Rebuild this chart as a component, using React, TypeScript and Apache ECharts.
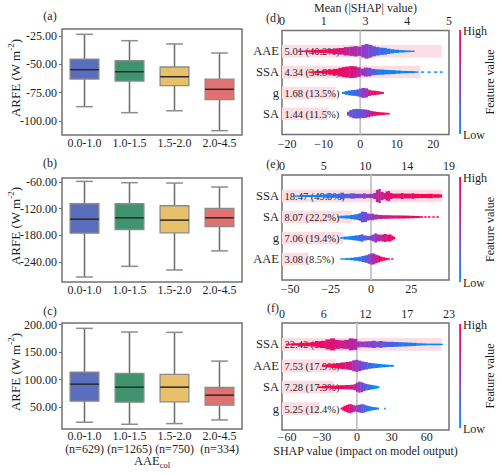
import React, { useEffect, useRef } from 'react';
import * as echarts from 'echarts';

const FONT = 'Liberation Serif';
const INK = '#1f1f1f';
const FRAME = '#727272';

// ---- ARFE box plots, grouped by AAE_col bin ----
const AAE_BINS = ['0.0-1.0', '1.0-1.5', '1.5-2.0', '2.0-4.5'];
const BIN_COUNTS = [629, 1265, 750, 334];
const BOX_FILLS = ['#5b6ebe', '#3f946f', '#e8c06a', '#e07272'];

// whisker low, Q1, median, Q3, whisker high
const ARFE_A = [
  [-87.3, -63.0, -54.7, -45.3, -23.5],
  [-92.6, -64.7, -56.5, -46.8, -29.1],
  [-90.9, -68.8, -60.9, -52.3, -32.0],
  [-108.5, -81.1, -72.0, -63.0, -40.0],
];
const ARFE_B = [
  [-274.4, -175.5, -143.8, -109.0, -58.5],
  [-250.3, -167.2, -140.8, -109.0, -61.5],
  [-258.6, -174.8, -146.0, -113.6, -62.3],
  [-215.5, -160.4, -140.8, -119.6, -71.3],
];
const ARFE_C = [
  [22.7, 60.9, 91.9, 113.8, 193.3],
  [19.0, 59.1, 86.4, 111.3, 186.6],
  [20.2, 59.7, 86.4, 109.5, 186.0],
  [26.9, 53.6, 71.9, 85.8, 133.8],
];
const ARFE_TICKS_A = [-100, -75, -50, -25];
const ARFE_TICKS_B = [-240, -180, -120, -60];
const ARFE_TICKS_C = [50, 100, 150, 200];
const ARFE_RANGE_A = [-112.3, -18.8];
const ARFE_RANGE_B = [-285.7, -50.9];
const ARFE_RANGE_C = [10.4, 203.0];

// ---- SHAP summaries; features listed top to bottom ----
// swarm profiles: [SHAP value, half thickness (px), feature value 0..1]
const FEATURES_D = ['AAE', 'SSA', 'g', 'SA'];
const MEAN_SHAP_D = [5.01, 4.34, 1.68, 1.44];
const SHARE_D = [40.2, 34.8, 13.5, 11.5];
const SHAP_TICKS_D = [-20, -10, 0, 10, 20];
const SHAP_RANGE_D = [-21.4, 24.3];
const MEAN_LABELS_D = ['0', '1', '3', '4', '5'];
const MEAN_MAX_D = 5.24;
const SWARM_D = [
  [[-17, 0.7, 1], [-15, 1.0, 1], [-13, 1.4, 0.98], [-11, 1.8, 0.96], [-9, 2.2, 0.93], [-7.5, 2.8, 0.88], [-6, 3.3, 0.82], [-4.5, 4.2, 0.74], [-3, 4.6, 0.67], [-1.8, 5.2, 0.62], [-0.8, 4.6, 0.57], [0.3, 6.2, 0.52], [1.2, 7.4, 0.47], [2.2, 6.4, 0.42], [3.2, 5.0, 0.35], [4.2, 4.2, 0.28], [5.2, 3.6, 0.22], [6.2, 3.4, 0.17], [7.2, 2.6, 0.12], [8.2, 2.0, 0.08], [9.2, 1.6, 0.05], [10.5, 1.2, 0.02], [12, 0.9, 0], [13.5, 0.7, 0], [14.8, 0, 0]],
  [[-14.2, 0.7, 1], [-12.5, 1.2, 1], [-10.5, 1.8, 0.98], [-9, 2.5, 0.97], [-7.5, 3.2, 0.95], [-6, 4.2, 0.93], [-5, 5.0, 0.9], [-4, 5.5, 0.88], [-3, 6.0, 0.85], [-2, 5.7, 0.8], [-1, 4.8, 0.7], [0, 3.5, 0.6], [1, 4.5, 0.5], [2, 4.2, 0.42], [3, 3.2, 0.3], [4, 2.8, 0.2], [5, 2.6, 0.12], [6.5, 2.2, 0.06], [8, 2.0, 0.03], [9.5, 1.6, 0.02], [11, 1.2, 0], [13, 1.0, 0], [15, 0.7, 0], [15.8, 0, 0], [16.6, 0.7, 0], [17.4, 0, 0], [18.4, 0.7, 0], [19.2, 0, 0], [20.2, 0.7, 0], [21, 0, 0], [21.8, 0.7, 0], [22.5, 0, 0]],
  [[-5, 1.0, 0.05], [-4.2, 1.8, 0.05], [-3.4, 2.4, 0.1], [-2.6, 2.8, 0.15], [-1.8, 3.0, 0.2], [-1.0, 3.5, 0.3], [-0.3, 4.2, 0.4], [0.4, 5.0, 0.5], [1.2, 4.6, 0.6], [2.0, 3.2, 0.75], [2.8, 2.4, 0.85], [3.6, 2.2, 0.92], [4.4, 1.8, 0.95], [5.2, 1.2, 1], [6.0, 0.8, 1], [6.4, 0, 1]],
  [[-3.6, 2.0, 0.45], [-3.0, 3.6, 0.4], [-2.2, 4.6, 0.35], [-1.4, 4.8, 0.3], [-0.6, 4.6, 0.35], [0.2, 4.4, 0.4], [1.0, 4.2, 0.5], [1.8, 3.6, 0.6], [2.6, 2.8, 0.75], [3.4, 2.2, 0.85], [4.2, 1.8, 0.9], [5.0, 1.5, 0.95], [5.8, 1.3, 1], [6.6, 1.0, 1], [7.4, 0.8, 1], [8.0, 0, 1]],
];

const FEATURES_E = ['SSA', 'SA', 'g', 'AAE'];
const MEAN_SHAP_E = [18.47, 8.07, 7.06, 3.08];
const SHARE_E = [49.9, 22.2, 19.4, 8.5];
const SHAP_TICKS_E = [-50, -25, 0, 25];
const SHAP_RANGE_E = [-55.1, 48.3];
const MEAN_LABELS_E = ['0', '5', '10', '14', '19'];
const MEAN_MAX_E = 19.25;
const SWARM_E = [
  [[-48, 0.7, 0], [-44, 1.0, 0], [-39, 1.0, 0.02], [-34, 1.3, 0.05], [-29, 1.8, 0.1], [-27.5, 2.7, 0.14], [-26, 1.8, 0.16], [-22, 2.0, 0.22], [-19, 3.3, 0.27], [-17, 2.2, 0.3], [-13, 2.6, 0.35], [-12, 2.7, 0.38], [-10, 2.2, 0.42], [-6, 2.0, 0.47], [-5, 2.7, 0.5], [-3.5, 2.0, 0.53], [-0.7, 2.2, 0.57], [1.4, 3.0, 0.62], [3, 6.0, 0.68], [4.5, 7.0, 0.72], [5.8, 4.0, 0.75], [7.6, 3.0, 0.8], [9, 4.5, 0.84], [10.3, 5.0, 0.86], [11.5, 3.0, 0.88], [13, 2.4, 0.9], [17, 2.4, 0.92], [18.5, 3.0, 0.93], [20, 2.4, 0.94], [24, 2.2, 0.96], [25, 2.8, 0.97], [26.5, 2.2, 0.97], [30, 2.0, 0.98], [35, 2.2, 1], [38, 1.8, 1], [42, 1.6, 1], [43.8, 0, 1]],
  [[-21, 0.8, 0], [-19, 1.3, 0.02], [-16, 1.6, 0.05], [-13, 2.0, 0.1], [-11, 2.6, 0.16], [-9, 3.0, 0.22], [-7.5, 3.8, 0.28], [-6.2, 5.4, 0.34], [-4.5, 5.0, 0.4], [-2.7, 3.6, 0.46], [-1, 3.0, 0.5], [0.4, 3.4, 0.55], [1.6, 2.4, 0.6], [2.5, 2.6, 0.64], [4, 2.0, 0.7], [6.6, 1.8, 0.76], [9, 1.8, 0.8], [12, 1.6, 0.85], [15, 1.6, 0.88], [18, 1.5, 0.91], [21, 1.4, 0.94], [24, 1.2, 0.96], [27, 1.0, 0.98], [30, 0.8, 1], [32, 0, 1], [33, 0.8, 1], [34.2, 0, 1], [35.3, 0.8, 1], [36.5, 0, 1], [38, 0.8, 1], [39.2, 0, 1], [40.5, 0.8, 1], [41.7, 0, 1]],
  [[-19, 0.8, 0], [-17, 1.5, 0.02], [-14, 1.8, 0.05], [-12, 2.2, 0.08], [-10, 2.6, 0.12], [-8, 3.0, 0.18], [-6.5, 3.7, 0.24], [-5, 2.6, 0.3], [-3, 2.0, 0.36], [-1, 2.4, 0.42], [0.5, 3.4, 0.5], [2, 4.6, 0.56], [3.5, 3.6, 0.62], [5, 3.2, 0.68], [6.5, 3.6, 0.74], [8, 4.0, 0.8], [9.5, 3.4, 0.86], [11, 3.6, 0.92], [12.5, 2.4, 0.96], [13.5, 1.3, 1], [14.8, 0, 1]],
  [[-19, 0.7, 0], [-16, 0.9, 0], [-13, 1.3, 0.02], [-10.5, 1.8, 0.08], [-8, 2.3, 0.15], [-6, 3.0, 0.22], [-4, 3.8, 0.3], [-2, 4.8, 0.4], [-0.5, 5.6, 0.55], [1, 5.4, 0.65], [2.5, 4.2, 0.75], [4, 3.4, 0.85], [5.5, 2.4, 0.92], [7, 1.8, 0.96], [8.5, 1.2, 1], [10, 0.8, 1], [11.5, 0, 1], [12.5, 0.8, 1], [13.5, 0, 1]],
];

const FEATURES_F = ['SSA', 'AAE', 'SA', 'g'];
const MEAN_SHAP_F = [22.42, 7.53, 7.28, 5.25];
const SHARE_F = [52.4, 17.9, 17.3, 12.4];
const SHAP_TICKS_F = [-60, -30, 0, 30, 60];
const SHAP_RANGE_F = [-64.3, 79.1];
const MEAN_LABELS_F = ['0', '6', '12', '17', '23'];
const MEAN_MAX_F = 23.44;
const SWARM_F = [
  [[-61, 0.8, 1], [-56, 1.2, 1], [-50, 1.5, 1], [-45, 1.8, 0.98], [-40, 2.2, 0.96], [-35, 3.0, 0.93], [-31, 3.6, 0.9], [-27, 5.0, 0.87], [-23, 6.0, 0.84], [-19, 4.5, 0.8], [-15, 4.0, 0.77], [-11, 4.5, 0.73], [-7, 6.0, 0.7], [-3.5, 5.5, 0.65], [0, 3.0, 0.6], [3, 2.8, 0.55], [6.5, 3.0, 0.5], [10, 3.2, 0.47], [13, 3.6, 0.43], [16, 3.0, 0.4], [19, 3.4, 0.36], [22, 2.8, 0.32], [25, 2.6, 0.28], [28, 2.6, 0.24], [31, 2.4, 0.2], [35, 2.2, 0.15], [39, 2.0, 0.1], [43, 1.8, 0.06], [47, 1.6, 0.03], [51, 1.2, 0], [55, 1.0, 0], [59, 0.8, 0], [63, 0.8, 0], [67, 0.8, 0], [71, 0.7, 0], [73.5, 0, 0]],
  [[-30, 1.0, 1], [-26, 1.6, 1], [-22, 2.2, 0.97], [-18, 2.8, 0.93], [-14, 3.4, 0.88], [-10, 3.8, 0.8], [-7, 4.4, 0.72], [-4, 5.5, 0.62], [-1.5, 6.0, 0.55], [1, 5.2, 0.48], [3.5, 4.4, 0.4], [6, 3.8, 0.32], [9, 3.0, 0.24], [12, 2.6, 0.16], [15, 2.2, 0.1], [18, 1.8, 0.05], [21, 1.5, 0.02], [24, 1.2, 0], [27, 1.0, 0], [30, 0.8, 0], [31.5, 0, 0]],
  [[-34, 0.8, 1], [-30, 1.2, 1], [-26, 1.4, 1], [-22, 1.6, 0.98], [-18, 1.8, 0.96], [-14, 2.0, 0.92], [-10, 2.2, 0.88], [-6.5, 2.4, 0.8], [-3, 3.0, 0.7], [-1, 4.5, 0.6], [1, 5.5, 0.52], [3, 5.0, 0.45], [5, 4.0, 0.36], [7, 3.2, 0.28], [9, 2.8, 0.2], [11, 2.4, 0.12], [13, 2.0, 0.06], [15, 1.6, 0.02], [17, 1.0, 0], [19, 0, 0]],
  [[-14, 1.0, 1], [-12.5, 2.0, 1], [-11, 2.8, 0.97], [-9.5, 3.6, 0.92], [-8, 4.2, 0.87], [-6.5, 4.6, 0.82], [-5, 4.0, 0.75], [-3.5, 3.2, 0.68], [-2, 3.0, 0.6], [-0.5, 3.4, 0.54], [1, 3.8, 0.48], [2.5, 4.2, 0.4], [4, 4.4, 0.33], [5.5, 4.0, 0.26], [7, 3.2, 0.2], [8.5, 2.8, 0.14], [10, 2.4, 0.1], [11.5, 2.0, 0.06], [13, 1.6, 0.03], [14.5, 1.4, 0], [16, 1.2, 0], [17.5, 0.9, 0], [18.7, 0, 0], [23.4, 0.9, 0], [24.4, 0, 0]],
];

// ---- layout ----
const LEFT_X = 62;
const LEFT_W = 180;
const RIGHT_X = 282;
const RIGHT_W = 167;
const LEFT_ROWS = [{ top: 29, height: 106 }, { top: 178, height: 104 }, { top: 323, height: 106 }];
const LEFT_LABEL_GAP = [2, 2, 1];
const RIGHT_ROWS = [{ top: 30.5, height: 104 }, { top: 175, height: 105 }, { top: 323, height: 107 }];
const RIGHT_TOP_GAP = [4, 3, 3];
const RIGHT_BOTTOM_GAP = [3, 3, 1];
const COLORBARS = [[30, 134], [177, 282], [324, 428]];
const SHAP_LOW = '#008bfb';
const SHAP_MID = '#8e3dcb';
const SHAP_HIGH = '#ff0051';

const leftPanels = [
  { boxes: ARFE_A, ticks: ARFE_TICKS_A, range: ARFE_RANGE_A },
  { boxes: ARFE_B, ticks: ARFE_TICKS_B, range: ARFE_RANGE_B },
  { boxes: ARFE_C, ticks: ARFE_TICKS_C, range: ARFE_RANGE_C },
];
const rightPanels = [
  { features: FEATURES_D, means: MEAN_SHAP_D, shares: SHARE_D, ticks: SHAP_TICKS_D, range: SHAP_RANGE_D, meanLabels: MEAN_LABELS_D, meanMax: MEAN_MAX_D, swarm: SWARM_D },
  { features: FEATURES_E, means: MEAN_SHAP_E, shares: SHARE_E, ticks: SHAP_TICKS_E, range: SHAP_RANGE_E, meanLabels: MEAN_LABELS_E, meanMax: MEAN_MAX_E, swarm: SWARM_E },
  { features: FEATURES_F, means: MEAN_SHAP_F, shares: SHARE_F, ticks: SHAP_TICKS_F, range: SHAP_RANGE_F, meanLabels: MEAN_LABELS_F, meanMax: MEAN_MAX_F, swarm: SWARM_F },
];

const minus = (v: number) => String(v).replace('-', '\u2212');

function boxItem(params: any, api: any) {
  const cat = api.value(0);
  const lo = api.coord([cat, api.value(1)]);
  const q1 = api.coord([cat, api.value(2)]);
  const md = api.coord([cat, api.value(3)]);
  const q3 = api.coord([cat, api.value(4)]);
  const hi = api.coord([cat, api.value(5)]);
  const band = api.size([1, 0])[0];
  const bw = band * 0.64;
  const cw = bw * 0.58;
  const x = lo[0];
  const whisker = { stroke: '#6a6a6a', lineWidth: 1.5 };
  const cap = { stroke: '#8c8c8c', lineWidth: 1.5 };
  return {
    type: 'group',
    children: [
      { type: 'line', shape: { x1: x, y1: lo[1], x2: x, y2: q1[1] }, style: whisker },
      { type: 'line', shape: { x1: x, y1: q3[1], x2: x, y2: hi[1] }, style: whisker },
      { type: 'line', shape: { x1: x - cw / 2, y1: lo[1], x2: x + cw / 2, y2: lo[1] }, style: cap },
      { type: 'line', shape: { x1: x - cw / 2, y1: hi[1], x2: x + cw / 2, y2: hi[1] }, style: cap },
      { type: 'rect', shape: { x: x - bw / 2, y: q3[1], width: bw, height: q1[1] - q3[1] }, style: { fill: BOX_FILLS[cat], stroke: '#8a8a8a', lineWidth: 1.3 } },
      { type: 'line', shape: { x1: x - bw / 2, y1: md[1], x2: x + bw / 2, y2: md[1] }, style: { stroke: '#2a2a2a', lineWidth: 1.5 } },
    ],
  };
}

function swarmItem(params: any, api: any) {
  const h = api.value(2);
  if (!(h > 0)) return { type: 'group', children: [] };
  const row = api.value(1);
  const p0 = api.coord([api.value(0), row]);
  const p1 = api.coord([api.value(4), row]);
  return {
    type: 'rect',
    shape: { x: p0[0], y: p0[1] - h, width: Math.max(p1[0] - p0[0] + 0.4, 1), height: 2 * h },
    style: { fill: api.visual('color') },
  };
}

function meanItemFactory(labels: string[]) {
  return (params: any, api: any) => {
    const row = api.value(1);
    const p0 = api.coord([0, row]);
    const p1 = api.coord([api.value(0), row]);
    const hh = api.size([0, 0.6])[1];
    return {
      type: 'group',
      children: [
        { type: 'rect', shape: { x: p0[0], y: p0[1] - hh / 2, width: p1[0] - p0[0], height: hh }, style: { fill: '#fcdde4' } },
        { type: 'text', x: p0[0] + 2.5, y: p0[1] + 0.5, style: { text: labels[params.dataIndex], fontFamily: FONT, fontSize: 10.5, fill: INK, align: 'left', verticalAlign: 'middle' } },
      ],
    };
  };
}

function buildOption() {
  const grid: any[] = [];
  const xAxis: any[] = [];
  const yAxis: any[] = [];
  const series: any[] = [];
  const graphic: any[] = [];
  const swarmIdx: number[] = [];

  const gridBase = { show: true, borderColor: FRAME, borderWidth: 1.5, backgroundColor: 'transparent', containLabel: false, outerBoundsMode: 'none' };
  LEFT_ROWS.forEach((r) => grid.push({ ...gridBase, left: LEFT_X, width: LEFT_W, top: r.top, height: r.height }));
  RIGHT_ROWS.forEach((r) => grid.push({ ...gridBase, left: RIGHT_X, width: RIGHT_W, top: r.top, height: r.height }));

  // left category axes
  leftPanels.forEach((p, i) => {
    xAxis.push({
      type: 'category', gridIndex: i, data: AAE_BINS,
      axisLine: { show: false }, axisTick: { show: false },
      axisLabel: {
        interval: 0, margin: LEFT_LABEL_GAP[i], fontFamily: FONT, fontSize: 12, color: INK, lineHeight: 12.6,
        formatter: i === 2 ? (v: string, k: number) => `${v}\n(n=${BIN_COUNTS[k]})` : (v: string) => v,
      },
    });
  });
  // right bottom SHAP axes
  rightPanels.forEach((p, i) => {
    xAxis.push({
      type: 'value', gridIndex: 3 + i, position: 'bottom', min: p.range[0], max: p.range[1],
      axisLine: { show: false }, axisTick: { show: false }, splitLine: { show: false },
      axisLabel: { customValues: p.ticks, formatter: (v: number) => minus(v), margin: RIGHT_BOTTOM_GAP[i], fontFamily: FONT, fontSize: 12, color: INK },
    });
  });
  // right top mean |SHAP| axes
  rightPanels.forEach((p, i) => {
    const q = p.meanMax / 4;
    xAxis.push({
      type: 'value', gridIndex: 3 + i, position: 'top', min: 0, max: p.meanMax,
      axisLine: { show: false }, axisTick: { show: false }, splitLine: { show: false },
      axisLabel: { customValues: [0, q, 2 * q, 3 * q, 4 * q], formatter: (v: number) => p.meanLabels[Math.round(v / q)], margin: RIGHT_TOP_GAP[i], fontFamily: FONT, fontSize: 12, lineHeight: 12, color: INK },
    });
  });

  leftPanels.forEach((p, i) => {
    yAxis.push({
      type: 'value', gridIndex: i, min: p.range[0], max: p.range[1],
      axisLine: { show: false }, splitLine: { show: false },
      axisTick: { show: true, customValues: p.ticks, length: 3, lineStyle: { color: FRAME, width: 1 } },
      axisLabel: { customValues: p.ticks, formatter: (v: number) => v.toFixed(2), margin: 5, fontFamily: FONT, fontSize: 12, color: INK },
    });
  });
  rightPanels.forEach((p, i) => {
    yAxis.push({
      type: 'value', gridIndex: 3 + i, min: -1, max: 4, interval: 1,
      axisLine: { show: false }, axisTick: { show: false }, splitLine: { show: false },
      axisLabel: {
        margin: 3, fontFamily: FONT, fontSize: 12.5, color: INK,
        formatter: (v: number) => (v >= 0 && v <= 3 ? p.features[3 - v] : ''),
      },
    });
  });

  leftPanels.forEach((p, i) => {
    series.push({
      type: 'custom', xAxisIndex: i, yAxisIndex: i, renderItem: boxItem,
      encode: { x: 0, y: [1, 2, 3, 4, 5] },
      data: p.boxes.map((b, k) => [k, ...b]),
    });
  });

  rightPanels.forEach((p, i) => {
    const labels = p.means.map((m, k) => `${m.toFixed(2)} (${p.shares[k].toFixed(1)}%)`);
    series.push({
      type: 'custom', xAxisIndex: 6 + i, yAxisIndex: 3 + i, z: 1,
      renderItem: meanItemFactory(labels), encode: { x: 0, y: 1 },
      data: p.means.map((m, k) => [m, 3 - k]),
    });
    series.push({
      type: 'line', xAxisIndex: 3 + i, yAxisIndex: 3 + i, z: 2, symbol: 'none', silent: true,
      lineStyle: { color: '#c4c4c4', width: 1.8 },
      data: [[0, -1], [0, 4]],
    });
    const items: number[][] = [];
    p.swarm.forEach((prof, k) => {
      prof.forEach((s, j) => {
        const next = j + 1 < prof.length ? prof[j + 1][0] : s[0];
        items.push([s[0], 3 - k, s[1], s[2], next]);
      });
    });
    swarmIdx.push(series.length);
    series.push({
      type: 'custom', xAxisIndex: 3 + i, yAxisIndex: 3 + i, z: 3,
      renderItem: swarmItem, encode: { x: 0, y: 1 }, data: items,
    });
  });

  // panel tags
  const tags = [
    { t: '(a)', x: 50, y: 16 }, { t: '(b)', x: 50, y: 163 }, { t: '(c)', x: 50, y: 310.5 },
    { t: '(d)', x: 273, y: 18 }, { t: '(e)', x: 273, y: 164 }, { t: '(f)', x: 273, y: 308 },
  ];
  tags.forEach((g) => graphic.push({
    type: 'text', x: g.x, y: g.y,
    style: { text: g.t, fontFamily: FONT, fontSize: 12, fill: INK, align: 'center', verticalAlign: 'middle' },
  }));

  // ARFE axis titles
  LEFT_ROWS.forEach((r) => graphic.push({
    type: 'text', x: 14, y: r.top + r.height / 2 - 4, rotation: Math.PI / 2,
    style: {
      text: '{n|ARFE (W m}{s|-2}{n|)}', align: 'center', verticalAlign: 'middle',
      rich: {
        n: { fontFamily: FONT, fontSize: 13, fill: INK, verticalAlign: 'bottom' },
        s: { fontFamily: FONT, fontSize: 9, fill: INK, verticalAlign: 'bottom', padding: [0, 0, 6, 0] },
      },
    },
  }));

  graphic.push({
    type: 'text', x: LEFT_X + LEFT_W / 2, y: 462,
    style: {
      text: '{a|AAE}{b|col}', align: 'center', verticalAlign: 'middle',
      rich: {
        a: { fontFamily: FONT, fontSize: 12.5, fill: INK, verticalAlign: 'top' },
        b: { fontFamily: FONT, fontSize: 8.5, fill: INK, verticalAlign: 'top', padding: [6, 0, 0, 0] },
      },
    },
  });
  graphic.push({
    type: 'text', x: RIGHT_X + RIGHT_W / 2, y: 8,
    style: { text: 'Mean (|SHAP| value)', fontFamily: FONT, fontSize: 12, lineHeight: 12, fill: INK, align: 'center', verticalAlign: 'middle' },
  });
  graphic.push({
    type: 'text', x: RIGHT_X + RIGHT_W / 2, y: 451,
    style: { text: 'SHAP value (impact on model output)', fontFamily: FONT, fontSize: 12, fill: INK, align: 'center', verticalAlign: 'middle' },
  });

  // feature-value colour bars
  COLORBARS.forEach(([top, bottom]) => {
    graphic.push({
      type: 'rect', shape: { x: 459.2, y: top, width: 1.8, height: bottom - top },
      style: {
        fill: new echarts.graphic.LinearGradient(0, 0, 0, 1, [
          { offset: 0, color: SHAP_HIGH }, { offset: 0.5, color: SHAP_MID }, { offset: 1, color: SHAP_LOW },
        ]),
      },
    });
    graphic.push({ type: 'text', x: 463, y: top + 1, style: { text: 'High', fontFamily: FONT, fontSize: 12, fill: INK, align: 'left', verticalAlign: 'middle' } });
    graphic.push({ type: 'text', x: 463, y: bottom + 1, style: { text: 'Low', fontFamily: FONT, fontSize: 12, fill: INK, align: 'left', verticalAlign: 'middle' } });
    graphic.push({
      type: 'text', x: 490, y: (top + bottom) / 2, rotation: Math.PI / 2,
      style: { text: 'Feature value', fontFamily: FONT, fontSize: 12, fill: INK, align: 'center', verticalAlign: 'middle' },
    });
  });

  return {
    animation: false,
    backgroundColor: '#ffffff',
    textStyle: { fontFamily: FONT },
    grid, xAxis, yAxis, series, graphic,
    visualMap: {
      type: 'continuous', show: false, min: 0, max: 1, dimension: 3, seriesIndex: swarmIdx,
      inRange: { color: [SHAP_LOW, SHAP_MID, SHAP_HIGH] },
    },
  };
}

export default function App() {
  const ref = useRef<HTMLDivElement>(null);
  useEffect(() => {
    document.body.style.margin = '0';
    const chart = echarts.init(ref.current!, null, { renderer: 'svg' });
    chart.setOption(buildOption() as any);
    return () => chart.dispose();
  }, []);
  return <div ref={ref} style={{ width: 500, height: 475 }} />;
}
